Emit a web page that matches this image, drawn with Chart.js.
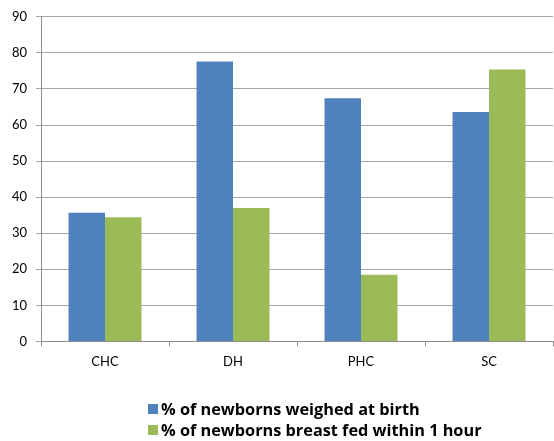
<!DOCTYPE html>
<html>
<head>
<meta charset="utf-8">
<script src="https://cdn.jsdelivr.net/npm/chart.js@4/dist/chart.umd.min.js"></script>
<style>
  html, body { margin: 0; padding: 0; background: #fff; }
  #wrap { position: relative; width: 554px; height: 441px; }
  #legend { position: absolute; left: 148px; top: 398px; font-family: "Open Sans", Lato, sans-serif; font-weight: bold; font-size: 16.3px; color: #000; }
  .item { display: flex; align-items: center; height: 21px; white-space: nowrap; }
  .box { width: 10px; height: 10px; margin-right: 3px; flex: none; }
</style>
</head>
<body>
<div id="wrap">
  <canvas id="c" width="554" height="441"></canvas>
  <div id="legend"></div>
</div>
<script>
const categories = ["CHC", "DH", "PHC", "SC"];
const weighedAtBirth = [35.7, 77.6, 67.4, 63.6];
const breastFedWithin1Hour = [34.4, 37.0, 18.5, 75.4];
const seriesLabels = ["% of newborns weighed at birth", "% of newborns breast fed within 1 hour"];
const seriesColors = ["#4f81bd", "#9bbb59"];
const yTicks = [0, 10, 20, 30, 40, 50, 60, 70, 80, 90];

const font = { family: "Lato, 'Open Sans', sans-serif", size: 13 };

new Chart(document.getElementById('c'), {
  type: 'bar',
  data: {
    labels: categories,
    datasets: [
      { label: seriesLabels[0], data: weighedAtBirth, backgroundColor: seriesColors[0], borderWidth: 0 },
      { label: seriesLabels[1], data: breastFedWithin1Hour, backgroundColor: seriesColors[1], borderWidth: 0 }
    ]
  },
  options: {
    responsive: false,
    animation: false,
    layout: { padding: { top: 16, right: 1, bottom: 63, left: 0 } },
    datasets: { bar: { categoryPercentage: 0.57, barPercentage: 1.0 } },
    plugins: { legend: { display: false }, tooltip: { enabled: false } },
    scales: {
      x: {
        grid: { offset: true, drawOnChartArea: false, drawTicks: true, tickLength: 5, color: '#8c8c8c' },
        border: { color: '#8c8c8c' },
        ticks: { color: '#000', font: font, padding: 8 }
      },
      y: {
        min: 0, max: 90,
        afterFit: s => { s.width = 41; },
        afterBuildTicks: s => { s.ticks = yTicks.map(v => ({ value: v })); },
        grid: { color: '#a6a6a6', tickLength: 5 },
        border: { color: '#8c8c8c' },
        ticks: { color: '#000', font: font, padding: 9 }
      }
    }
  }
});

const lg = document.getElementById('legend');
seriesLabels.forEach((t, i) => {
  const d = document.createElement('div');
  d.className = 'item';
  const b = document.createElement('span');
  b.className = 'box';
  b.style.background = seriesColors[i];
  const s = document.createElement('span');
  s.textContent = t;
  d.appendChild(b); d.appendChild(s);
  lg.appendChild(d);
});
</script>
</body>
</html>
